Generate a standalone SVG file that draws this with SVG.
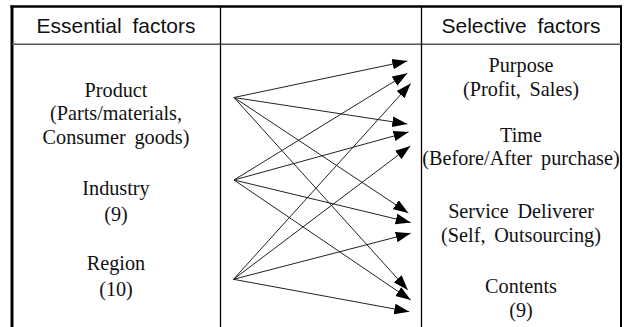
<svg xmlns="http://www.w3.org/2000/svg" width="633" height="327" viewBox="0 0 633 327">
<style>
.hd{font-family:"Liberation Sans",Arial,sans-serif;font-size:21px;fill:#111;text-anchor:middle;word-spacing:5px}
.tx{font-family:"Liberation Serif","Times New Roman",serif;font-size:22px;fill:#111;text-anchor:middle;word-spacing:4px}
.ln{stroke:#222;stroke-width:1;fill:none;marker-end:url(#ah)}
</style>
<defs>
<marker id="ah" markerUnits="userSpaceOnUse" markerWidth="16" markerHeight="12" refX="15" refY="6" orient="auto">
<path d="M0,0.7 L15,6 L0,11.3 z" fill="#000"/>
</marker>
</defs>
<rect width="633" height="327" fill="#fff"/>
<g id="table">
<line x1="10.5" y1="6.5" x2="622" y2="6.5" stroke="#000" stroke-width="2.5"/>
<line x1="12" y1="5.5" x2="12" y2="327" stroke="#000" stroke-width="3"/>
<line x1="621" y1="5.5" x2="621" y2="327" stroke="#000" stroke-width="2"/>
<line x1="12" y1="44.3" x2="621" y2="44.3" stroke="#555" stroke-width="1.5"/>
<line x1="220.5" y1="6.5" x2="220.5" y2="327" stroke="#000" stroke-width="1.3"/>
<line x1="421.5" y1="6.5" x2="421.5" y2="327" stroke="#000" stroke-width="1.3"/>
</g>
<g id="header-essential"><text class="hd" x="116" y="33.3">Essential factors</text></g>
<g id="header-selective"><text class="hd" x="521" y="33.3">Selective factors</text></g>
<g id="node-product" transform="translate(116,0) scale(0.92,1)">
<text class="tx" x="0" y="96.7">Product</text>
<text class="tx" x="0" y="120.5">(Parts/materials,</text>
<text class="tx" x="0" y="144.3">Consumer goods)</text>
</g>
<g id="node-industry" transform="translate(116,0) scale(0.92,1)">
<text class="tx" x="0" y="195">Industry</text>
<text class="tx" x="0" y="221">(9)</text>
</g>
<g id="node-region" transform="translate(116,0) scale(0.92,1)">
<text class="tx" x="0" y="270">Region</text>
<text class="tx" x="0" y="296">(10)</text>
</g>
<g id="node-purpose" transform="translate(521,0) scale(0.92,1)">
<text class="tx" x="0" y="71.7">Purpose</text>
<text class="tx" x="0" y="96">(Profit, Sales)</text>
</g>
<g id="node-time" transform="translate(521,0) scale(0.92,1)">
<text class="tx" x="0" y="141.7">Time</text>
<text class="tx" x="0" y="165.5">(Before/After purchase)</text>
</g>
<g id="node-service" transform="translate(521,0) scale(0.92,1)">
<text class="tx" x="0" y="218">Service Deliverer</text>
<text class="tx" x="0" y="241.7">(Self, Outsourcing)</text>
</g>
<g id="node-contents" transform="translate(521,0) scale(0.92,1)">
<text class="tx" x="0" y="293">Contents</text>
<text class="tx" x="0" y="316.7">(9)</text>
</g>
<g id="connectors">
<line class="ln" x1="234" y1="97.5" x2="407.3" y2="61"/>
<line class="ln" x1="234" y1="97.5" x2="407.3" y2="124"/>
<line class="ln" x1="234" y1="97.5" x2="408.3" y2="213"/>
<line class="ln" x1="234" y1="97.5" x2="407.8" y2="290"/>
<line class="ln" x1="234" y1="180" x2="407.3" y2="73.3"/>
<line class="ln" x1="234" y1="180" x2="408.5" y2="132"/>
<line class="ln" x1="234" y1="180" x2="410.7" y2="222.5"/>
<line class="ln" x1="234" y1="180" x2="410.7" y2="300"/>
<line class="ln" x1="233.5" y1="279.3" x2="410.7" y2="83.5"/>
<line class="ln" x1="233.5" y1="279.3" x2="410.3" y2="146"/>
<line class="ln" x1="233.5" y1="279.3" x2="410.7" y2="233.3"/>
<line class="ln" x1="233.5" y1="279.3" x2="409.3" y2="311.7"/>
</g>
</svg>
